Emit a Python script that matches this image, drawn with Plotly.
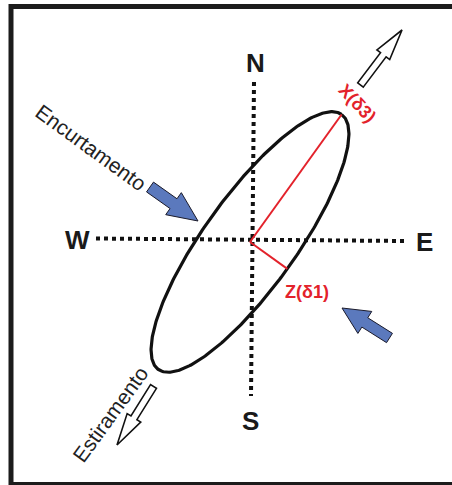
import numpy as np
import plotly.graph_objects as go

W, H = 452, 485

# Compass cross (pixel space, y grows downward)
ns_line = [(254, 82), (251, 396)]
we_line = [(96, 238.5), (406, 241)]
compass_labels = ["N", "S", "W", "E"]
compass_pos = [(255, 63), (250, 421), (77, 240), (424, 242)]

# Strain ellipse: centre, semi-axes, azimuth of long axis (deg above +x)
ellipse_center = (250, 242)
ellipse_axes = (157, 46)
ellipse_angle = 54.3

# Principal axes labels
axis_labels = ["X(δ3)", "Z(δ1)"]
axis_label_pos = [(357, 103), (307, 292)]
axis_label_angle = [47, 0]

# Side labels
side_labels = ["Encurtamento", "Estiramento"]
side_label_pos = [(91, 147), (110, 414)]
side_label_angle = [36, -54]

# Arrows: tail centre, tip, shaft width, head width, head length
blue_arrows = [
    ((150, 187), (198, 221), 12, 27, 30),
    ((389.5, 338), (342, 308), 11, 26, 27),
]
white_arrows = [
    ((360.5, 85), (402, 30), 7, 16, 31),
    ((153.5, 386.5), (117, 445), 7, 16, 32),
]


def arrow_path(tail, tip, shaft_w, head_w, head_len):
    t = np.array(tail, float)
    p = np.array(tip, float)
    d = p - t
    L = np.hypot(*d)
    u = d / L
    n = np.array([-u[1], u[0]])
    base = p - u * head_len
    pts = [
        t + n * shaft_w / 2,
        base + n * shaft_w / 2,
        base + n * head_w / 2,
        p,
        base - n * head_w / 2,
        base - n * shaft_w / 2,
        t - n * shaft_w / 2,
    ]
    return "M " + " L ".join(f"{x:.2f},{y:.2f}" for x, y in pts) + " Z"


fig = go.Figure()

# ellipse outline
tt = np.linspace(0, 2 * np.pi, 400)
a, b = ellipse_axes
th = np.radians(ellipse_angle)
ux, uy = np.cos(th), -np.sin(th)
vx, vy = np.sin(th), np.cos(th)
ex = ellipse_center[0] + a * np.cos(tt) * ux + b * np.sin(tt) * vx
ey = ellipse_center[1] + a * np.cos(tt) * uy + b * np.sin(tt) * vy
fig.add_trace(go.Scatter(x=ex, y=ey, mode="lines",
                         line=dict(color="#111111", width=3.2),
                         hoverinfo="skip", showlegend=False))

shapes = []
# frame
shapes.append(dict(type="rect", x0=11, y0=6.5, x1=475, y1=484.5,
                   line=dict(color="#1c1c1c", width=5), layer="below"))
# dotted compass lines
for (x0, y0), (x1, y1) in (ns_line, we_line):
    shapes.append(dict(type="line", x0=x0, y0=y0, x1=x1, y1=y1,
                       line=dict(color="#111111", width=4, dash="dot")))
# principal axes (red)
cx, cy = ellipse_center
shapes.append(dict(type="line", x0=cx, y0=cy, x1=cx + a * ux, y1=cy + a * uy,
                   line=dict(color="#e3222b", width=2)))
shapes.append(dict(type="line", x0=cx, y0=cy, x1=cx + b * vx, y1=cy + b * vy,
                   line=dict(color="#e3222b", width=2)))
# arrows
for spec in blue_arrows:
    shapes.append(dict(type="path", path=arrow_path(*spec),
                       fillcolor="#5b79bd", line=dict(color="#1a1a2a", width=1)))
for spec in white_arrows:
    shapes.append(dict(type="path", path=arrow_path(*spec),
                       fillcolor="white", line=dict(color="#111111", width=1.6)))

annotations = []
for txt, (x, y) in zip(compass_labels, compass_pos):
    annotations.append(dict(x=x, y=y, text=f"<b>{txt}</b>", showarrow=False,
                            font=dict(family="Liberation Sans", size=26, color="#1a1a1a")))
for txt, (x, y), ang in zip(axis_labels, axis_label_pos, axis_label_angle):
    annotations.append(dict(x=x, y=y, text=f"<b>{txt}</b>", showarrow=False, textangle=ang,
                            font=dict(family="Liberation Sans", size=18, color="#e3222b")))
for txt, (x, y), ang in zip(side_labels, side_label_pos, side_label_angle):
    annotations.append(dict(x=x, y=y, text=txt, showarrow=False, textangle=ang,
                            font=dict(family="Liberation Sans", size=21, color="#222222")))

fig.update_layout(
    width=W, height=H, margin=dict(l=0, r=0, t=0, b=0),
    paper_bgcolor="white", plot_bgcolor="white",
    xaxis=dict(range=[0, W], visible=False, fixedrange=True),
    yaxis=dict(range=[H, 0], visible=False, fixedrange=True),
    shapes=shapes, annotations=annotations, showlegend=False,
)
fig.write_html("out.html", config={"displayModeBar": False})
